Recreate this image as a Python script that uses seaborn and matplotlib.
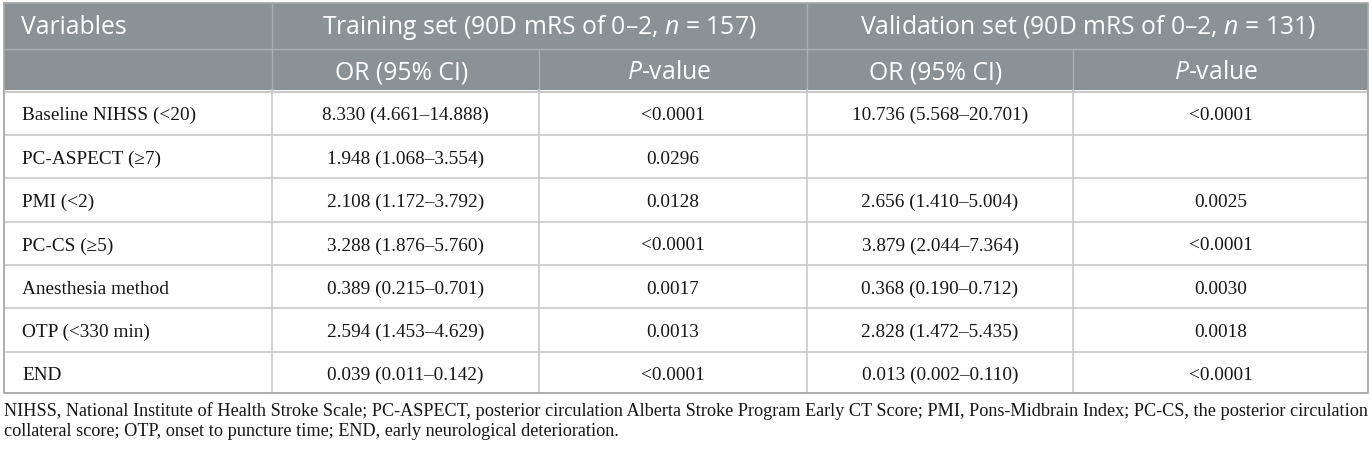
import matplotlib
matplotlib.use("Agg")
import matplotlib.pyplot as plt
import seaborn as sns
from matplotlib.patches import Rectangle

# ---------------- data ----------------
variables = ["Baseline NIHSS (<20)", "PC-ASPECT (≥7)", "PMI (<2)", "PC-CS (≥5)",
             "Anesthesia method", "OTP (<330 min)", "END"]
train_or = [8.330, 1.948, 2.108, 3.288, 0.389, 2.594, 0.039]
train_lo = [4.661, 1.068, 1.172, 1.876, 0.215, 1.453, 0.011]
train_hi = [14.888, 3.554, 3.792, 5.760, 0.701, 4.629, 0.142]
train_p = ["<0.0001", "0.0296", "0.0128", "<0.0001", "0.0017", "0.0013", "<0.0001"]
val_or = [10.736, None, 2.656, 3.879, 0.368, 2.828, 0.013]
val_lo = [5.568, None, 1.410, 2.044, 0.190, 1.472, 0.002]
val_hi = [20.701, None, 5.004, 7.364, 0.712, 5.435, 0.110]
val_p = ["<0.0001", "", "0.0025", "<0.0001", "0.0030", "0.0018", "<0.0001"]
header_top = ["Variables", "Training set (90D mRS of 0–2, $n$ = 157)",
              "Validation set (90D mRS of 0–2, $n$ = 131)"]
header_sub = ["OR (95% CI)", "$P$-value", "OR (95% CI)", "$P$-value"]
footnote_1 = ("NIHSS, National Institute of Health Stroke Scale; PC-ASPECT, posterior circulation "
              "Alberta Stroke Program Early CT Score; PMI, Pons-Midbrain Index; PC-CS, the posterior circulation")
footnote_2 = "collateral score; OTP, onset to puncture time; END, early neurological deterioration."

# ---------------- style ----------------
sns.set_theme(style="white")
plt.rcParams["font.family"] = ["Liberation Serif", "DejaVu Serif"]
plt.rcParams["mathtext.fontset"] = "custom"
plt.rcParams["mathtext.it"] = "Open Sans:italic"
plt.rcParams["mathtext.rm"] = "Open Sans"

HEAD_BG = "#8a9295"
HEAD_LINE = "#aab0b2"
GRID = "#c9c9c9"
BORDER = "#a8a8a8"
TXT = "#161616"
HEAD_FONT = ["Open Sans", "DejaVu Sans"]
BODY_FONT = ["Liberation Serif", "DejaVu Serif"]

W, H = 1372, 450
fig = plt.figure(figsize=(W / 100, H / 100), dpi=100)
ax = fig.add_axes([0, 0, 1, 1])
ax.set_xlim(0, W)
ax.set_ylim(H, 0)
ax.axis("off")
renderer = fig.canvas.get_renderer()


def fit_size(text, family, target, base=12.0):
    t = ax.text(0, 0, text, fontsize=base, family=family)
    w = t.get_window_extent(renderer).width
    t.remove()
    return base * target / w


xs = [4, 272, 539, 807, 1073, 1368]
ys = [3, 49, 90, 135, 178, 222, 265, 308, 352, 393]

# header background
ax.add_patch(Rectangle((xs[0], ys[0]), xs[-1] - xs[0], ys[2] - ys[0],
                       facecolor=HEAD_BG, edgecolor="none", zorder=1))
# header lines
ax.plot([xs[0], xs[-1]], [ys[1], ys[1]], color=HEAD_LINE, lw=1.0, zorder=2)
for x in (xs[1], xs[3]):
    ax.plot([x, x], [ys[0], ys[2]], color=HEAD_LINE, lw=1.0, zorder=2)
for x in (xs[2], xs[4]):
    ax.plot([x, x], [ys[1], ys[2]], color=HEAD_LINE, lw=1.0, zorder=2)
ax.plot([xs[0], xs[-1]], [ys[2] + 1.5, ys[2] + 1.5], color=GRID, lw=1.5, zorder=2)

# body lines
for y in ys[3:-1]:
    ax.plot([xs[0], xs[-1]], [y, y], color=GRID, lw=1.2, zorder=2)
for x in xs[1:-1]:
    ax.plot([x, x], [ys[2], ys[-1]], color=GRID, lw=1.2, zorder=2)
# outer border
ax.plot([xs[0], xs[-1], xs[-1], xs[0], xs[0]], [ys[0], ys[0], ys[-1], ys[-1], ys[0]],
        color=BORDER, lw=1.3, zorder=3)

# header text (size fitted to the reference text width)
hfs = fit_size(header_top[1], HEAD_FONT, 435)
ax.text(21, 34, header_top[0], color="white", fontsize=hfs,
        family=HEAD_FONT, ha="left", va="baseline", zorder=4)
ax.text((xs[1] + xs[3]) / 2, 34, header_top[1], color="white", fontsize=hfs,
        family=HEAD_FONT, ha="center", va="baseline", zorder=4)
ax.text((xs[3] + xs[5]) / 2, 34, header_top[2], color="white", fontsize=hfs,
        family=HEAD_FONT, ha="center", va="baseline", zorder=4)
for i, lab in enumerate(header_sub):
    ax.text((xs[i + 1] + xs[i + 2]) / 2 - 4, 79, lab, color="white", fontsize=hfs,
            family=HEAD_FONT, ha="center", va="baseline", zorder=4)

# body text
bfs = fit_size(variables[0], BODY_FONT, 174)


def fmt(o, lo, hi):
    if o is None:
        return ""
    return f"{o:.3f} ({lo:.3f}–{hi:.3f})"


for r in range(len(variables)):
    yb = (ys[r + 2] + ys[r + 3]) / 2 + 7
    ax.text(22, yb, variables[r], color=TXT, fontsize=bfs, family=BODY_FONT,
            ha="left", va="baseline", zorder=4)
    cells = [fmt(train_or[r], train_lo[r], train_hi[r]), train_p[r],
             fmt(val_or[r], val_lo[r], val_hi[r]), val_p[r]]
    for c, s in enumerate(cells):
        if s:
            ax.text((xs[c + 1] + xs[c + 2]) / 2, yb, s, color=TXT, fontsize=bfs,
                    family=BODY_FONT, ha="center", va="baseline", zorder=4)

# footnote: first line fitted to the table width, second left aligned
left, right = 4, 1366
ffs = fit_size(footnote_1, BODY_FONT, right - left)
ax.text(left, 416, footnote_1, color=TXT, fontsize=ffs, family=BODY_FONT,
        ha="left", va="baseline")
ax.text(left, 436, footnote_2, color=TXT, fontsize=ffs, family=BODY_FONT,
        ha="left", va="baseline")

fig.savefig("out.png", dpi=100)
